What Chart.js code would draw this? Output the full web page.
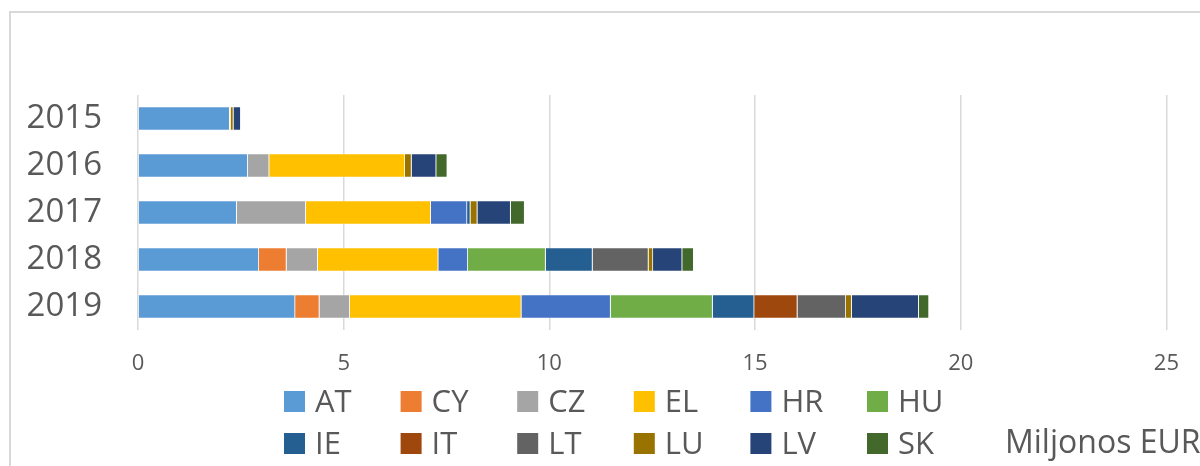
<!DOCTYPE html>
<html lang="lt">
<head>
  <meta charset="UTF-8">
  <title>Miljonos EUR</title>
  <style>
    html, body { margin: 0; padding: 0; background: #fff; overflow: hidden; }
    #wrap { position: relative; width: 1200px; height: 466px; }
  </style>
</head>
<body>
  <div id="wrap"><canvas id="chart" width="1200" height="466"></canvas></div>

  <script src="https://cdn.jsdelivr.net/npm/chart.js"></script>
  <script>
    // years on the category axis
    const years = ['2015', '2016', '2017', '2018', '2019'];
    const xTicks = [0, 5, 10, 15, 20, 25];
    const unitLabel = 'Miljonos EUR';

    // country values, million EUR
    const AT = [2.23, 2.67, 2.40, 2.94, 3.82];
    const CY = [null, null, null, 0.67, 0.59];
    const CZ = [null, 0.52, 1.68, 0.76, 0.74];
    const EL = [0.03, 3.30, 3.04, 2.93, 4.17];
    const HR = [null, null, 0.88, 0.72, 2.17];
    const HU = [null, null, null, 1.89, 2.48];
    const IE = [null, null, 0.08, 1.14, 1.01];
    const IT = [null, null, null, null, 1.05];
    const LT = [null, null, null, 1.36, 1.18];
    const LU = [0.06, 0.16, 0.17, 0.11, 0.14];
    const LV = [0.18, 0.60, 0.81, 0.71, 1.63];
    const SK = [null, 0.27, 0.34, 0.28, 0.25];

    const countries = ['AT', 'CY', 'CZ', 'EL', 'HR', 'HU', 'IE', 'IT', 'LT', 'LU', 'LV', 'SK'];
    const seriesValues = [AT, CY, CZ, EL, HR, HU, IE, IT, LT, LU, LV, SK];
    const colors = ['#5B9BD5', '#ED7D31', '#A5A5A5', '#FFC000', '#4472C4', '#70AD47',
                    '#255E91', '#9E480E', '#636363', '#997300', '#264478', '#43682B'];

    const textColor = '#595959';
    const fontFamily = '"Open Sans", "Liberation Sans", sans-serif';

    // outer frame like the office chart area
    const framePlugin = {
      id: 'frame',
      beforeDraw(chart) {
        const c = chart.ctx;
        c.save();
        c.fillStyle = '#fff';
        c.fillRect(0, 0, chart.width, chart.height);
        c.strokeStyle = '#d9d9d9';
        c.lineWidth = 2;
        c.strokeRect(10, 12, 1400, 600);
        c.restore();
      }
    };

    // two-row legend with fixed columns, plus the unit text
    const legendPlugin = {
      id: 'gridLegend',
      afterDraw(chart) {
        const c = chart.ctx;
        c.save();
        c.font = '31px ' + fontFamily;
        c.textBaseline = 'alphabetic';
        c.textAlign = 'left';
        chart.data.datasets.forEach((ds, i) => {
          const col = i % 6, row = Math.floor(i / 6);
          const x = 284 + col * 116.6;
          const y = row === 0 ? 391 : 433;
          c.fillStyle = ds.backgroundColor;
          c.fillRect(x, y, 21, 21);
          c.fillStyle = textColor;
          c.fillText(ds.label, x + 31, y + 21);
        });
        c.font = '32px ' + fontFamily;
        c.fillText(unitLabel, 1005, 453);
        c.restore();
      }
    };

    new Chart(document.getElementById('chart'), {
      type: 'bar',
      data: {
        labels: years,
        datasets: countries.map((name, i) => ({
          label: name,
          data: seriesValues[i],
          backgroundColor: colors[i],
          borderColor: 'rgba(255,255,255,0.7)',
          borderWidth: 0.75,
          barPercentage: 0.51,
          categoryPercentage: 1
        }))
      },
      options: {
        indexAxis: 'y',
        responsive: false,
        animation: false,
        layout: { padding: { top: 95, right: 29, bottom: 0, left: 0 } },
        plugins: {
          legend: { display: false },
          tooltip: { enabled: false }
        },
        scales: {
          x: {
            stacked: true,
            min: 0,
            max: 25,
            afterBuildTicks(scale) { scale.ticks = xTicks.map(v => ({ value: v })); },
            afterFit(scale) { scale.height = 136; },
            grid: { color: '#d9d9d9', lineWidth: 1.5, drawTicks: false },
            border: { display: false },
            ticks: { padding: 21, color: textColor, font: { family: fontFamily, size: 22 } }
          },
          y: {
            stacked: true,
            afterFit(scale) { scale.width = 138; },
            grid: { display: false, drawTicks: false },
            border: { display: false },
            ticks: { padding: 36, color: textColor, font: { family: fontFamily, size: 33 } }
          }
        }
      },
      plugins: [framePlugin, legendPlugin]
    });
  </script>
</body>
</html>
